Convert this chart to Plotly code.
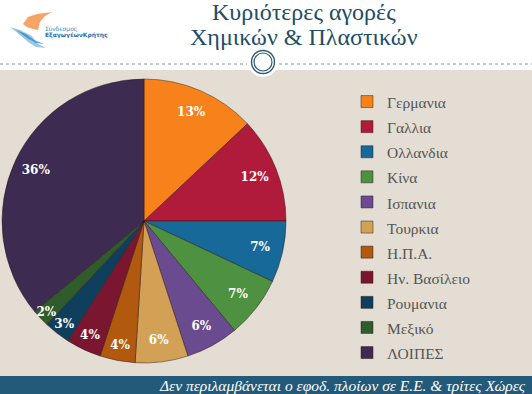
import plotly.graph_objects as go

W, H = 532, 394

countries = ["Γερμανια", "Γαλλια", "Ολλανδια", "Κίνα", "Ισπανια", "Τουρκια",
             "Η.Π.Α.", "Ην. Βασίλειο", "Ρουμανια", "Μεξικό", "ΛΟΙΠΕΣ"]
shares = [13, 12, 7, 7, 6, 6, 4, 4, 3, 2, 36]
colors = ["#F7821B", "#B01A3B", "#17699A", "#4E9141", "#6A4B90", "#D3A156",
          "#B0590F", "#7B1630", "#0F3F5C", "#2F5C2A", "#3D2B51"]

title_lines = ["Κυριότερες αγορές", "Χημικών &amp; Πλαστικών"]
footer_text = "Δεν περιλαμβάνεται ο εφοδ. πλοίων σε Ε.Ε. &amp; τρίτες Χώρες"

SERIF = "Liberation Serif, DejaVu Serif, serif"


def px(x):
    return x / W


def py(y):
    return 1 - y / H


# pie geometry (pixels)
cx, cy, r = 144, 221, 142
pie_domain = dict(x=[px(cx - r), px(cx + r)], y=[py(cy + r), py(cy - r)])

legend_labels = [f"<span style='font-size:15.5px'>{c}</span>" for c in countries]

fig = go.Figure()
# coloured slices + legend
fig.add_trace(go.Pie(
    labels=legend_labels,
    values=shares,
    sort=False,
    direction="clockwise",
    rotation=0,
    marker=dict(colors=colors, line=dict(color="rgba(40,20,20,0.45)", width=1)),
    textinfo="none",
    domain=pie_domain,
    hovertemplate="%{customdata}: %{value}%<extra></extra>",
    customdata=countries,
    showlegend=True,
))
# transparent ring that carries the percentage labels near the rim
fig.add_trace(go.Pie(
    labels=countries,
    values=shares,
    sort=False,
    direction="clockwise",
    rotation=0,
    hole=0.68,
    marker=dict(colors=["rgba(0,0,0,0)"] * len(shares), line=dict(width=0)),
    texttemplate="%{value}%",
    textposition="inside",
    insidetextorientation="horizontal",
    textfont=dict(family="DejaVu Serif, serif", size=12, color="white", weight="bold"),
    domain=pie_domain,
    hoverinfo="skip",
    showlegend=False,
))

shapes = []
# beige panel
shapes.append(dict(type="rect", xref="paper", yref="paper", x0=0, x1=1,
                   y0=py(376), y1=py(70), fillcolor="#E3DDD3", line_width=0, layer="below"))
# footer band
shapes.append(dict(type="rect", xref="paper", yref="paper", x0=0, x1=1,
                   y0=0, y1=py(376), fillcolor="#235A7A", line_width=0, layer="below"))
# dotted separator
shapes.append(dict(type="line", xref="paper", yref="paper", x0=0, x1=px(247),
                   y0=py(64), y1=py(64), line=dict(color="#7F98A8", width=1, dash="dot"), layer="below"))
shapes.append(dict(type="line", xref="paper", yref="paper", x0=px(279), x1=1,
                   y0=py(64), y1=py(64), line=dict(color="#7F98A8", width=1, dash="dot"), layer="below"))
# ornament circle
ox, oy = 263, 62
shapes.append(dict(type="circle", xref="paper", yref="paper",
                   x0=px(ox - 15), x1=px(ox + 15), y0=py(oy + 15), y1=py(oy - 15),
                   fillcolor="white", line_width=0))
for rr, wd in [(11.5, 1.4), (9, 1.2)]:
    shapes.append(dict(type="circle", xref="paper", yref="paper",
                       x0=px(ox - rr), x1=px(ox + rr), y0=py(oy + rr), y1=py(oy - rr),
                       line=dict(color="#2C5A76", width=wd)))


# logo swooshes
def path(points):
    s = "M " + f"{px(points[0][0]):.5f},{py(points[0][1]):.5f}"
    for x, y in points[1:]:
        s += f" L {px(x):.5f},{py(y):.5f}"
    return s + " Z"


shapes.append(dict(type="path", xref="paper", yref="paper",
                   path=path([(23, 24), (28, 17), (37, 14), (52, 12), (45, 16),
                              (40, 22), (38, 30), (33, 29), (27, 27)]),
                   fillcolor="#F29A55", line_width=0, opacity=0.9))
shapes.append(dict(type="path", xref="paper", yref="paper",
                   path=path([(10, 27), (20, 30), (32, 36), (38, 44), (46, 48),
                              (36, 47), (28, 42), (20, 35)]),
                   fillcolor="#8EC3E4", line_width=0, opacity=0.9))
shapes.append(dict(type="path", xref="paper", yref="paper",
                   path=path([(16, 30), (26, 34), (34, 40), (44, 44), (36, 43),
                              (27, 38)]),
                   fillcolor="#3B8CC8", line_width=0, opacity=0.8))

annotations = [
    dict(text=title_lines[0], x=px(304), y=py(12), xref="paper", yref="paper",
         showarrow=False, xanchor="center", yanchor="middle",
         font=dict(family=SERIF, size=24, color="#1E4D68")),
    dict(text=title_lines[1], x=px(304), y=py(37), xref="paper", yref="paper",
         showarrow=False, xanchor="center", yanchor="middle",
         font=dict(family=SERIF, size=24, color="#1E4D68")),
    dict(text="Σύνδεσμος", x=px(43), y=py(29), xref="paper", yref="paper",
         showarrow=False, xanchor="left", yanchor="middle",
         font=dict(family="DejaVu Sans, sans-serif", size=6, color="#4A8CC0")),
    dict(text="<b>ΕξαγωγέωνΚρήτης</b>", x=px(43), y=py(35), xref="paper", yref="paper",
         showarrow=False, xanchor="left", yanchor="middle",
         font=dict(family="DejaVu Sans, sans-serif", size=6, color="#2A6FB0")),
    dict(text=f"<i>{footer_text}</i>", x=px(528), y=py(385), xref="paper", yref="paper",
         showarrow=False, xanchor="right", yanchor="middle",
         font=dict(family=SERIF, size=15.5, color="white")),
]

fig.update_layout(
    width=W, height=H,
    margin=dict(l=0, r=0, t=0, b=0),
    paper_bgcolor="white",
    plot_bgcolor="rgba(0,0,0,0)",
    shapes=shapes,
    annotations=annotations,
    uniformtext=dict(minsize=12, mode="show"),
    legend=dict(
        x=px(347), y=py(84), xanchor="left", yanchor="top",
        bgcolor="rgba(0,0,0,0)",
        font=dict(family=SERIF, size=17, color="#555555"),
        traceorder="normal",
        itemclick=False,
    ),
)

fig.write_html("out.html", config={"displayModeBar": False},
               post_script="document.body.style.margin='0';")
